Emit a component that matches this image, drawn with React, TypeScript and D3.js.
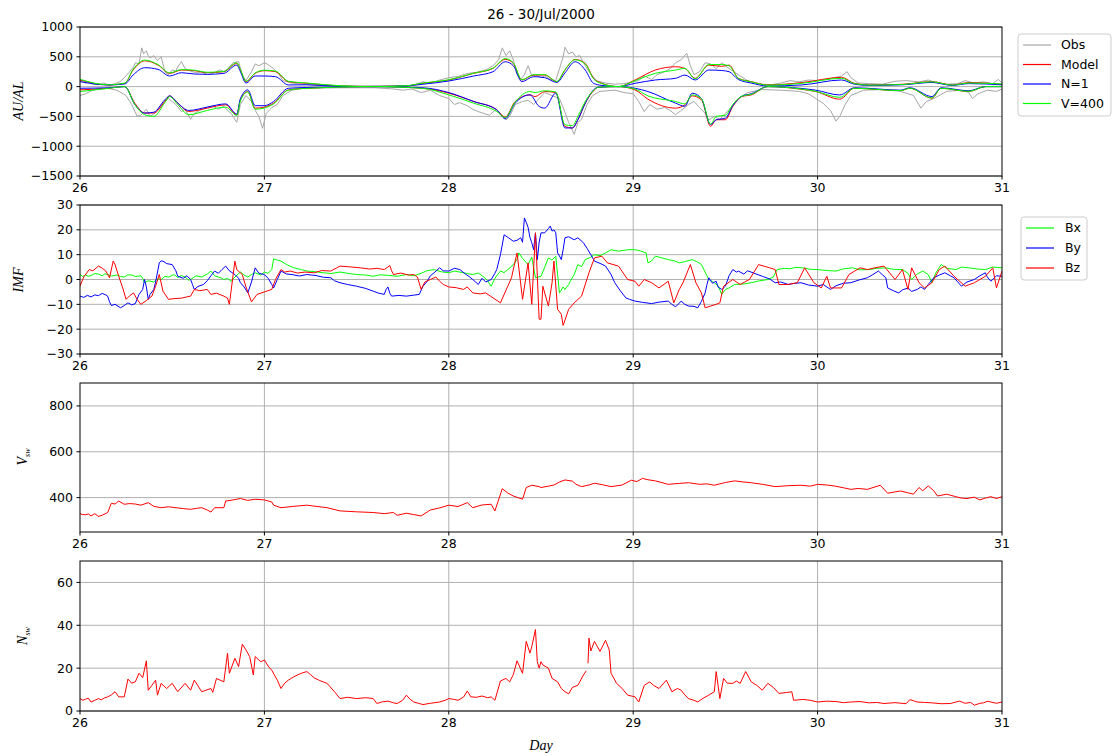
import React from "react";
import * as d3 from "d3";

type P = [number, number][];

// ---------- Panel 1: AU / AL ----------
const auModel: P = [[26.0,111],[26.153,28],[26.243,55],[26.288,278],[26.351,433],[26.423,361],[26.486,222],[26.55,278],[26.62,267],[26.69,233],[26.78,250],[26.85,389],[26.87,278],[26.9,83],[26.95,222],[27.0,267],[27.06,250],[27.13,83],[27.23,55],[27.41,11],[27.59,0],[27.77,11],[27.86,55],[28.0,111],[28.135,222],[28.24,306],[28.306,456],[28.35,389],[28.396,111],[28.46,194],[28.52,194],[28.586,83],[28.63,278],[28.685,456],[28.74,389],[28.785,139],[28.83,55],[28.92,0],[29.01,111],[29.12,278],[29.23,333],[29.28,306],[29.336,139],[29.41,361],[29.48,340],[29.52,361],[29.57,139],[29.64,83],[29.73,28],[29.915,67],[30.13,155],[30.2,55],[30.28,28],[30.46,39],[30.62,83],[30.73,28],[30.82,67],[31.0,39]];
const auN1: P = [[26.0,83],[26.153,28],[26.243,45],[26.288,195],[26.351,317],[26.423,289],[26.486,178],[26.55,233],[26.62,211],[26.69,206],[26.78,222],[26.85,361],[26.87,250],[26.9,60],[26.95,178],[27.0,178],[27.06,167],[27.13,28],[27.23,30],[27.41,5],[27.59,0],[27.77,11],[27.86,40],[28.0,94],[28.135,178],[28.24,250],[28.306,417],[28.35,350],[28.396,83],[28.46,167],[28.52,150],[28.586,70],[28.63,230],[28.685,417],[28.74,278],[28.785,55],[28.83,20],[28.92,0],[29.01,55],[29.12,111],[29.23,139],[29.28,194],[29.336,111],[29.41,278],[29.48,270],[29.52,250],[29.57,120],[29.64,60],[29.73,10],[29.915,28],[30.13,111],[30.2,40],[30.28,20],[30.46,30],[30.62,70],[30.73,20],[30.82,50],[31.0,30]];
const auV400: P = [[26.0,122],[26.153,30],[26.243,60],[26.288,290],[26.351,444],[26.423,370],[26.486,230],[26.55,285],[26.62,275],[26.69,240],[26.78,255],[26.85,400],[26.87,285],[26.9,90],[26.95,230],[27.0,275],[27.06,260],[27.13,90],[27.23,60],[27.41,15],[27.59,0],[27.77,15],[27.86,60],[28.0,115],[28.135,225],[28.24,310],[28.306,470],[28.35,400],[28.396,115],[28.46,200],[28.52,200],[28.586,85],[28.63,285],[28.685,450],[28.74,380],[28.785,130],[28.83,50],[28.92,0],[29.01,100],[29.12,222],[29.23,278],[29.28,306],[29.336,130],[29.41,370],[29.48,370],[29.52,350],[29.57,140],[29.64,80],[29.73,25],[29.915,55],[30.13,140],[30.2,50],[30.28,25],[30.46,35],[30.62,80],[30.73,25],[30.82,60],[31.0,45]];
const alModel: P = [[26.0,-55],[26.153,-28],[26.243,0],[26.297,-278],[26.351,-444],[26.4,-444],[26.46,-250],[26.486,-156],[26.53,-278],[26.59,-417],[26.69,-361],[26.79,-306],[26.85,-472],[26.87,-222],[26.91,-83],[26.95,-361],[27.0,-344],[27.05,-278],[27.13,-55],[27.23,-28],[27.59,0],[27.86,-28],[28.0,-111],[28.135,-250],[28.26,-389],[28.306,-511],[28.36,-250],[28.44,-139],[28.468,-167],[28.52,-83],[28.58,-100],[28.63,-667],[28.67,-694],[28.7,-556],[28.74,-278],[28.79,-55],[28.81,-10],[28.92,0],[29.01,-55],[29.08,-211],[29.23,-361],[29.28,-306],[29.32,-156],[29.37,-222],[29.42,-667],[29.45,-556],[29.5,-556],[29.54,-333],[29.59,-167],[29.64,-139],[29.73,0],[29.91,-44],[29.99,-83],[30.12,-211],[30.2,-28],[30.45,-67],[30.5,-28],[30.62,-194],[30.67,-28],[30.82,-83],[30.91,0],[31.0,0]];
const alN1: P = [[26.0,-28],[26.153,-20],[26.243,0],[26.297,-300],[26.351,-444],[26.4,-430],[26.46,-222],[26.486,-156],[26.53,-278],[26.59,-400],[26.69,-344],[26.79,-290],[26.85,-460],[26.87,-200],[26.91,-55],[26.95,-320],[27.0,-320],[27.05,-250],[27.13,-28],[27.23,-15],[27.59,0],[27.86,-20],[28.0,-100],[28.135,-250],[28.26,-389],[28.306,-540],[28.36,-278],[28.44,-139],[28.49,-333],[28.52,-361],[28.58,-111],[28.63,-694],[28.67,-694],[28.7,-556],[28.74,-278],[28.79,-40],[28.81,-10],[28.92,0],[29.01,-28],[29.08,-83],[29.23,-278],[29.28,-330],[29.32,-111],[29.37,-200],[29.42,-639],[29.45,-556],[29.5,-530],[29.54,-320],[29.59,-160],[29.64,-120],[29.73,0],[29.91,-30],[29.99,-60],[30.12,-140],[30.2,-20],[30.45,-60],[30.5,-20],[30.62,-167],[30.67,-20],[30.82,-70],[30.91,0],[31.0,0]];
const alV400: P = [[26.0,-83],[26.153,-30],[26.243,0],[26.297,-300],[26.351,-472],[26.4,-500],[26.46,-270],[26.486,-170],[26.53,-300],[26.59,-472],[26.69,-400],[26.79,-345],[26.85,-485],[26.87,-240],[26.91,-90],[26.95,-380],[27.0,-360],[27.05,-290],[27.13,-60],[27.23,-30],[27.59,0],[27.86,-30],[28.0,-139],[28.135,-278],[28.26,-417],[28.306,-520],[28.36,-260],[28.44,-83],[28.468,-100],[28.52,-70],[28.58,-90],[28.63,-639],[28.67,-656],[28.7,-500],[28.74,-250],[28.79,-50],[28.81,-10],[28.92,0],[29.01,-40],[29.08,-156],[29.23,-250],[29.28,-290],[29.32,-139],[29.37,-200],[29.42,-630],[29.45,-500],[29.5,-480],[29.54,-300],[29.59,-160],[29.64,-130],[29.73,0],[29.91,-40],[29.99,-80],[30.12,-180],[30.2,-28],[30.45,-67],[30.5,-28],[30.62,-190],[30.67,-28],[30.82,-80],[30.91,0],[31.0,0]];
const auObs: P = [[26.0,100],[26.015,80],[26.03,60],[26.05,75],[26.07,40],[26.1,30],[26.13,60],[26.16,20],[26.2,60],[26.22,90],[26.24,150],[26.27,250],[26.29,330],[26.3,400],[26.32,380],[26.335,650],[26.345,550],[26.36,600],[26.37,520],[26.38,480],[26.4,520],[26.42,440],[26.44,500],[26.45,380],[26.46,250],[26.48,200],[26.5,280],[26.52,260],[26.53,330],[26.55,420],[26.57,300],[26.6,260],[26.63,230],[26.66,250],[26.68,210],[26.7,200],[26.73,240],[26.76,280],[26.78,250],[26.8,300],[26.83,400],[26.86,420],[26.88,200],[26.9,100],[26.93,250],[26.95,380],[26.97,350],[27.0,400],[27.02,370],[27.05,300],[27.08,200],[27.1,100],[27.15,60],[27.2,40],[27.3,20],[27.5,10],[27.7,20],[27.78,10],[27.82,40],[27.86,80],[27.9,60],[27.95,110],[28.0,150],[28.05,170],[28.1,220],[28.15,240],[28.2,280],[28.24,350],[28.27,450],[28.29,650],[28.31,520],[28.33,600],[28.35,450],[28.37,200],[28.39,120],[28.41,200],[28.43,350],[28.45,180],[28.47,200],[28.5,150],[28.52,180],[28.55,120],[28.58,100],[28.6,300],[28.62,500],[28.63,660],[28.65,550],[28.67,580],[28.69,500],[28.71,520],[28.73,400],[28.76,250],[28.8,100],[28.85,60],[28.9,40],[28.95,50],[29.0,80],[29.03,100],[29.06,180],[29.1,120],[29.13,200],[29.17,250],[29.2,300],[29.23,400],[29.26,450],[29.29,560],[29.31,350],[29.33,200],[29.36,250],[29.39,400],[29.42,380],[29.45,300],[29.48,400],[29.5,350],[29.53,280],[29.57,200],[29.62,100],[29.66,60],[29.7,40],[29.75,30],[29.8,60],[29.85,100],[29.9,80],[29.95,110],[30.0,100],[30.05,120],[30.09,150],[30.13,180],[30.16,250],[30.18,150],[30.22,60],[30.28,50],[30.35,40],[30.42,90],[30.48,100],[30.55,80],[30.6,110],[30.65,60],[30.7,40],[30.76,50],[30.8,100],[30.85,60],[30.9,80],[30.95,50],[30.98,120],[31.0,60]];
const alObs: P = [[26.0,-150],[26.03,-120],[26.07,-60],[26.1,-40],[26.15,-30],[26.2,-60],[26.25,-150],[26.28,-300],[26.31,-500],[26.33,-480],[26.36,-380],[26.38,-500],[26.4,-460],[26.43,-350],[26.46,-250],[26.48,-200],[26.5,-250],[26.52,-300],[26.55,-420],[26.57,-380],[26.6,-550],[26.62,-450],[26.65,-400],[26.68,-360],[26.72,-320],[26.75,-380],[26.78,-330],[26.8,-400],[26.82,-450],[26.85,-600],[26.87,-300],[26.9,-150],[26.93,-250],[26.95,-400],[26.97,-500],[26.99,-700],[27.01,-450],[27.04,-350],[27.07,-300],[27.1,-150],[27.15,-60],[27.2,-30],[27.4,-20],[27.6,-20],[27.7,-40],[27.75,-60],[27.8,-40],[27.85,-100],[27.9,-60],[27.95,-150],[28.0,-200],[28.03,-300],[28.06,-270],[28.1,-320],[28.13,-380],[28.16,-420],[28.19,-450],[28.22,-480],[28.25,-400],[28.28,-450],[28.31,-560],[28.33,-500],[28.36,-300],[28.4,-250],[28.43,-230],[28.46,-300],[28.49,-200],[28.52,-100],[28.56,-150],[28.6,-200],[28.62,-350],[28.65,-600],[28.68,-800],[28.7,-600],[28.72,-550],[28.75,-300],[28.78,-150],[28.82,-80],[28.9,-60],[28.95,-100],[29.0,-120],[29.03,-250],[29.06,-420],[29.09,-300],[29.13,-380],[29.17,-350],[29.2,-400],[29.23,-470],[29.26,-400],[29.3,-300],[29.33,-250],[29.36,-350],[29.39,-450],[29.41,-560],[29.44,-500],[29.47,-550],[29.5,-450],[29.53,-350],[29.57,-200],[29.62,-100],[29.7,-50],[29.8,-60],[29.9,-80],[29.95,-120],[29.99,-200],[30.03,-280],[30.07,-400],[30.1,-580],[30.12,-500],[30.15,-300],[30.18,-150],[30.25,-60],[30.35,-50],[30.45,-80],[30.52,-150],[30.56,-360],[30.59,-250],[30.63,-200],[30.7,-80],[30.78,-60],[30.82,-100],[30.84,-200],[30.87,-120],[30.92,-60],[30.97,-80],[31.0,-40]];

// ---------- Panel 2: IMF ----------
const bx: P = [[26.0,2],[26.015,1.2],[26.03,1.8],[26.045,1.3],[26.06,1.6],[26.08,2.4],[26.1,2.2],[26.12,1.5],[26.135,2.3],[26.15,2],[26.17,1.4],[26.2,1.8],[26.22,1.2],[26.24,1],[26.26,1.9],[26.28,1.8],[26.3,1.2],[26.33,1.5],[26.34,0.5],[26.35,-1.3],[26.37,-0.5],[26.4,-1],[26.42,0.3],[26.44,0],[26.46,1.2],[26.48,1],[26.51,2],[26.53,0.8],[26.55,1.6],[26.57,1],[26.59,-0.3],[26.6,0],[26.63,1.5],[26.66,1],[26.69,2.2],[26.71,3.4],[26.73,1.5],[26.75,1],[26.77,0.5],[26.78,0],[26.8,0.5],[26.82,-0.7],[26.84,1],[26.87,3],[26.89,1.8],[26.91,1],[26.93,2],[26.95,2.7],[26.98,1.8],[27.0,3],[27.02,2.5],[27.04,4],[27.05,8.3],[27.07,7.8],[27.09,7.4],[27.12,6],[27.16,4.7],[27.2,4],[27.23,3.4],[27.27,3.2],[27.32,2.7],[27.36,2.4],[27.41,3],[27.45,2.5],[27.5,2],[27.55,1.8],[27.59,1.3],[27.63,1.9],[27.68,1.6],[27.72,1.3],[27.77,2],[27.81,1.5],[27.85,2.5],[27.88,3.5],[27.92,4],[27.96,3.1],[28.0,2.7],[28.03,3.4],[28.06,3],[28.1,2.4],[28.13,2],[28.16,2.6],[28.19,1],[28.21,-0.5],[28.23,-2.7],[28.25,0.5],[28.28,3.4],[28.3,2.8],[28.32,4],[28.35,6],[28.37,8],[28.38,10.7],[28.4,8.5],[28.43,6],[28.45,9],[28.47,0.7],[28.5,1.3],[28.52,5],[28.54,8.7],[28.56,7.8],[28.58,9.4],[28.59,2],[28.6,-5.4],[28.62,-3],[28.63,-4],[28.65,-2],[28.66,-0.5],[28.68,2],[28.7,6],[28.72,5.2],[28.74,8],[28.77,9],[28.79,10],[28.82,9.6],[28.85,10.7],[28.88,12],[28.92,11.4],[28.97,12],[29.01,12],[29.04,11.5],[29.07,10.7],[29.08,6.7],[29.1,7.5],[29.12,9.4],[29.15,8.8],[29.19,8],[29.22,7.6],[29.25,6.7],[29.28,7.2],[29.32,8],[29.35,7],[29.37,6],[29.39,3],[29.41,0],[29.44,-1.3],[29.46,-2.5],[29.48,-6],[29.5,-4],[29.52,-3.4],[29.55,-2],[29.6,-1.8],[29.64,-1.3],[29.68,-0.6],[29.73,0],[29.76,1],[29.78,4],[29.82,4.5],[29.85,4.3],[29.88,4.9],[29.92,4.7],[29.96,4.1],[30.0,4],[30.05,3.6],[30.1,3.4],[30.14,4.3],[30.19,4.7],[30.23,3.9],[30.28,4],[30.32,4.5],[30.37,4.7],[30.41,4.1],[30.46,4],[30.49,2.5],[30.51,0],[30.54,2.2],[30.57,3.4],[30.6,2],[30.62,-1.3],[30.64,2.5],[30.67,6],[30.7,4.5],[30.75,4],[30.78,5],[30.82,4.7],[30.87,4.2],[30.91,4],[30.95,5],[31.0,4.7]];
const by: P = [[26.0,-6.7],[26.02,-7.2],[26.04,-6.4],[26.06,-7],[26.08,-6.2],[26.1,-6.5],[26.12,-5.6],[26.14,-6.2],[26.15,-6.7],[26.16,-9],[26.17,-10.5],[26.19,-10],[26.22,-11.4],[26.24,-10.5],[26.26,-9.4],[26.28,-10.2],[26.3,-9.7],[26.32,-6],[26.34,-4],[26.35,0],[26.36,-3],[26.37,-8],[26.38,-6],[26.4,-4],[26.41,-1],[26.43,6.7],[26.44,7.5],[26.45,7.4],[26.47,6.4],[26.5,6],[26.52,3.5],[26.53,1.3],[26.56,0.5],[26.58,1.5],[26.6,0],[26.61,-2],[26.62,-4],[26.64,-2.8],[26.67,-2],[26.69,-0.5],[26.71,1.5],[26.73,3.4],[26.75,2.5],[26.77,4],[26.79,5.4],[26.81,3.5],[26.84,2],[26.86,0.5],[26.87,-1.3],[26.89,-3],[26.91,-5.4],[26.93,-1],[26.95,4.7],[26.97,2.5],[27.0,2],[27.02,0.5],[27.04,-2],[27.05,-3.4],[27.07,0],[27.09,3.4],[27.12,2.2],[27.15,2],[27.19,1.4],[27.23,2],[27.28,1.6],[27.32,0.9],[27.36,0.7],[27.38,-0.5],[27.41,-1.3],[27.45,-2],[27.5,-2.7],[27.55,-3.6],[27.59,-4.7],[27.62,-5.5],[27.65,-6],[27.66,-4],[27.67,-3],[27.68,-5.5],[27.69,-6.7],[27.73,-6.4],[27.77,-6.7],[27.81,-6.3],[27.84,-6],[27.86,-2.7],[27.88,-1],[27.9,1.5],[27.92,2.7],[27.95,4.7],[27.97,3.5],[28.0,3.4],[28.03,4.5],[28.06,4],[28.09,2.2],[28.11,1.2],[28.13,0],[28.16,-2],[28.18,0.5],[28.2,-1],[28.23,0],[28.25,2.5],[28.26,4],[28.28,10],[28.3,18],[28.32,17],[28.35,15.4],[28.37,15.8],[28.39,16.8],[28.4,15],[28.41,24.8],[28.42,23],[28.43,21],[28.44,17],[28.45,14.8],[28.46,12],[28.47,18.8],[28.48,8],[28.49,15],[28.5,18.8],[28.52,18.8],[28.54,20.5],[28.55,21.5],[28.56,19.5],[28.57,20],[28.58,18.8],[28.59,10.7],[28.6,9.5],[28.61,8],[28.62,12],[28.63,16.8],[28.65,17.2],[28.68,16],[28.7,16.8],[28.73,14.8],[28.75,12.5],[28.77,10],[28.79,7.4],[28.82,6.5],[28.85,5.4],[28.88,2],[28.9,-1.3],[28.93,-4.5],[28.96,-7.4],[28.98,-8],[29.01,-8.7],[29.05,-9.2],[29.1,-9.7],[29.14,-9.1],[29.19,-8.7],[29.21,-10],[29.23,-11],[29.25,-9.5],[29.26,-8.7],[29.28,-10],[29.3,-10.7],[29.33,-10.8],[29.35,-11.4],[29.37,-8.8],[29.39,-5.4],[29.4,-2],[29.41,0.7],[29.43,-1.5],[29.45,-0.7],[29.46,-3],[29.48,-4],[29.5,-2.7],[29.52,1.5],[29.54,4],[29.56,3],[29.57,3.4],[29.6,2.2],[29.62,3.5],[29.65,2.7],[29.7,1.3],[29.74,0.2],[29.77,-1.3],[29.8,-1],[29.84,-2],[29.87,-1.6],[29.91,-1.3],[29.95,-2.2],[30.0,-2.7],[30.03,-2],[30.07,-4],[30.1,-2.5],[30.14,-1.5],[30.18,-1.3],[30.22,-0.3],[30.27,0.7],[30.3,2],[30.33,3.4],[30.35,2],[30.37,0.7],[30.38,-3.4],[30.41,-4.5],[30.44,-5.4],[30.46,-4.2],[30.49,-3.4],[30.51,-4.8],[30.54,-4],[30.56,-3],[30.58,-4],[30.6,-2],[30.63,0.7],[30.66,1.8],[30.69,2.7],[30.72,1.5],[30.74,0.7],[30.76,-1],[30.78,-2.7],[30.81,-1],[30.85,0],[30.88,1.5],[30.91,2.7],[30.92,1],[30.94,-0.7],[30.97,1.5],[31.0,1.3]];
const bz: P = [[26.0,-2.7],[26.02,1],[26.05,4],[26.07,3.5],[26.1,5.4],[26.12,4.6],[26.14,3.4],[26.16,0.7],[26.18,7.4],[26.19,6],[26.21,1.3],[26.23,-3],[26.25,-8],[26.27,-6.5],[26.29,-5.4],[26.31,-8],[26.33,-10],[26.36,-8.5],[26.39,-6.7],[26.41,-2.7],[26.43,2],[26.45,-4.7],[26.48,-8],[26.51,-7.7],[26.55,-7.5],[26.58,-7],[26.6,-6.7],[26.62,-4],[26.65,-4.5],[26.69,-4],[26.71,-6],[26.74,-5.5],[26.78,-6.7],[26.8,-7.5],[26.81,-10],[26.84,7.4],[26.85,4],[26.88,2],[26.9,-3],[26.93,-9],[26.96,-6],[27.0,-5],[27.04,-4],[27.06,0],[27.09,4],[27.11,3],[27.14,3.4],[27.18,2.6],[27.22,3],[27.27,2.7],[27.31,3.6],[27.36,3.4],[27.39,4.6],[27.41,5.4],[27.46,5.1],[27.52,4.7],[27.57,4.2],[27.61,4.5],[27.65,4],[27.68,5.6],[27.69,3.5],[27.7,2],[27.74,2.6],[27.78,1.8],[27.81,2],[27.83,1],[27.85,-4],[27.87,-1],[27.9,0],[27.93,1],[27.95,-0.7],[27.97,-2],[28.0,-3],[28.04,-3.3],[28.08,-4],[28.1,-3],[28.13,-5.4],[28.17,-5.8],[28.2,-5.4],[28.24,-7.4],[28.28,-9.4],[28.32,-2.7],[28.34,0.7],[28.37,10.7],[28.4,-8],[28.43,6.7],[28.45,-10],[28.47,18.8],[28.49,-16],[28.5,-16],[28.51,-2.7],[28.54,-10.7],[28.56,-1.3],[28.57,7.4],[28.59,-12],[28.61,-14],[28.62,-18.5],[28.65,-12],[28.68,-9.4],[28.72,-6.7],[28.76,2.7],[28.79,8.7],[28.83,9.4],[28.86,6.7],[28.92,5.4],[28.97,0],[29.01,-0.7],[29.03,-2.7],[29.06,0],[29.1,-1.3],[29.14,-3.4],[29.19,-0.7],[29.22,-9.4],[29.25,-4],[29.27,-1.3],[29.31,6],[29.34,-1.3],[29.37,-5.4],[29.39,-11.4],[29.45,-10],[29.47,-9.4],[29.49,-2.7],[29.54,0],[29.58,-2],[29.63,0],[29.68,6],[29.74,4.7],[29.77,4],[29.79,-2],[29.84,-2],[29.89,-1.3],[29.93,4.7],[29.98,-1.3],[30.02,-3.4],[30.05,1.3],[30.07,-3.4],[30.13,-3.4],[30.17,2],[30.23,4.7],[30.27,4],[30.31,4.7],[30.36,5.4],[30.42,0],[30.46,4],[30.49,-4],[30.51,4.7],[30.55,-1.3],[30.58,-3.4],[30.62,-1.3],[30.66,4],[30.69,5.4],[30.74,1.3],[30.8,-2.7],[30.85,-1.3],[30.91,1.3],[30.95,4.7],[30.97,-3.4],[31.0,3.4]];

// ---------- Panel 3: Vsw ----------
const vsw: P = [[26.0,330],[26.015,326],[26.03,325],[26.045,329],[26.06,320],[26.08,330],[26.1,318],[26.12,323],[26.15,335],[26.17,375],[26.19,372],[26.21,385],[26.24,371],[26.27,374],[26.3,372],[26.33,367],[26.37,378],[26.4,362],[26.44,356],[26.48,360],[26.51,357],[26.56,352],[26.6,349],[26.63,353],[26.66,356],[26.69,346],[26.71,337],[26.73,356],[26.78,356],[26.79,385],[26.83,390],[26.87,396],[26.91,388],[26.95,393],[27.0,390],[27.04,381],[27.05,367],[27.09,356],[27.16,362],[27.23,367],[27.34,356],[27.41,342],[27.5,338],[27.59,335],[27.65,330],[27.7,335],[27.72,323],[27.77,332],[27.81,326],[27.85,320],[27.9,346],[27.95,355],[28.0,367],[28.05,361],[28.1,378],[28.13,356],[28.18,368],[28.23,371],[28.25,342],[28.29,439],[28.32,420],[28.35,407],[28.4,393],[28.42,444],[28.45,454],[28.49,448],[28.5,444],[28.54,450],[28.57,455],[28.6,468],[28.63,477],[28.67,472],[28.69,458],[28.72,448],[28.76,455],[28.79,463],[28.84,455],[28.88,448],[28.94,455],[28.99,476],[29.02,470],[29.05,484],[29.08,478],[29.12,473],[29.19,458],[29.25,462],[29.3,465],[29.36,458],[29.4,460],[29.44,454],[29.5,466],[29.55,473],[29.6,468],[29.64,465],[29.7,458],[29.77,448],[29.84,452],[29.91,454],[29.96,450],[30.0,458],[30.05,455],[30.09,451],[30.14,443],[30.18,436],[30.22,440],[30.27,436],[30.34,454],[30.38,419],[30.42,425],[30.45,429],[30.52,415],[30.55,444],[30.57,430],[30.6,451],[30.63,430],[30.65,407],[30.7,415],[30.75,404],[30.78,398],[30.81,396],[30.85,402],[30.88,390],[30.91,398],[30.94,404],[30.97,396],[31.0,404]];

// ---------- Panel 4: Nsw ----------
const nsw: P = [[26.0,5.8],[26.015,5],[26.03,5.5],[26.045,6],[26.06,4.2],[26.08,5],[26.1,5.8],[26.115,5.2],[26.13,6],[26.15,6.6],[26.17,7.5],[26.19,9],[26.21,6.6],[26.24,6.6],[26.26,14.9],[26.28,13],[26.3,13.6],[26.32,17.6],[26.34,15.6],[26.36,23.4],[26.37,9.7],[26.39,12],[26.41,14.4],[26.42,7.4],[26.44,12.9],[26.47,10.5],[26.5,12.9],[26.53,9],[26.57,12.9],[26.6,9.7],[26.62,14.4],[26.66,9],[26.71,10.5],[26.72,8.7],[26.74,15.2],[26.78,13.6],[26.8,27],[26.81,17.6],[26.84,24.6],[26.86,20.7],[26.88,31.2],[26.9,28.5],[26.92,25.4],[26.94,16.8],[26.95,25.4],[26.98,23],[27.0,23.8],[27.02,21],[27.04,19],[27.07,14.4],[27.09,10.5],[27.11,13],[27.13,14.4],[27.16,16],[27.2,17.6],[27.23,18.4],[27.25,17],[27.27,15.5],[27.3,14.2],[27.34,12.9],[27.38,9],[27.41,5.8],[27.45,6.4],[27.5,5.8],[27.55,6.2],[27.59,5.8],[27.61,3.5],[27.64,4.3],[27.67,4.6],[27.7,3.8],[27.72,3.5],[27.75,5],[27.77,7.4],[27.79,5.5],[27.81,4.2],[27.84,3.5],[27.86,3],[27.9,3.6],[27.95,4.2],[27.98,5],[28.0,5.8],[28.03,5.4],[28.05,5],[28.08,6.5],[28.1,9.3],[28.12,6.6],[28.15,6.4],[28.18,7],[28.21,6.2],[28.23,6.6],[28.25,5],[28.28,14],[28.31,15.2],[28.33,13.6],[28.35,17],[28.37,23.4],[28.4,17.6],[28.42,32.5],[28.44,27],[28.45,30],[28.47,38],[28.48,23],[28.49,20],[28.5,23],[28.51,21.5],[28.54,20],[28.56,15.2],[28.59,13.6],[28.61,10.5],[28.63,9],[28.65,8],[28.67,11],[28.7,12],[28.73,16.8],[28.745,18.7],[28.75,NaN],[28.755,22.3],[28.76,34],[28.77,28],[28.79,32.5],[28.82,27.8],[28.85,33],[28.87,28.5],[28.88,17.6],[28.91,12.9],[28.94,10.5],[28.97,7.4],[29.01,6.6],[29.03,4.2],[29.06,12],[29.09,13.6],[29.11,12],[29.14,10.5],[29.18,14.4],[29.21,9],[29.24,10.5],[29.26,9.7],[29.28,7.5],[29.3,5.8],[29.33,5],[29.35,4.2],[29.38,6],[29.41,7.4],[29.44,9],[29.45,18.4],[29.47,5.8],[29.49,15.2],[29.51,13],[29.54,12.9],[29.56,14],[29.58,12.9],[29.61,18.4],[29.64,13.6],[29.67,12],[29.7,9.7],[29.73,12.9],[29.76,11],[29.79,8.2],[29.83,8.6],[29.86,9],[29.87,5],[29.92,5.4],[29.96,5],[30.0,4.2],[30.05,4.6],[30.1,4.4],[30.14,3.9],[30.18,4.2],[30.23,4.4],[30.28,3.8],[30.32,4],[30.36,3.5],[30.42,3.9],[30.48,3.4],[30.5,5.3],[30.52,4.8],[30.54,4.2],[30.58,4],[30.62,3.8],[30.67,3.4],[30.72,3.5],[30.75,4.2],[30.77,4.6],[30.8,3.6],[30.83,4],[30.85,2.7],[30.88,3.6],[30.9,3.8],[30.92,4.5],[30.94,4.2],[30.97,3.6],[31.0,4.2]];

const xTicks = [26, 27, 28, 29, 30, 31];
const ticks1 = [1000, 500, 0, -500, -1000, -1500];
const ticks2 = [30, 20, 10, 0, -10, -20, -30];
const ticks3 = [400, 600, 800];
const ticks4 = [0, 20, 40, 60];

const TITLE = "26 - 30/Jul/2000";
const legend1 = [
  { label: "Obs", color: "#a6a6a6" },
  { label: "Model", color: "#ff0000" },
  { label: "N=1", color: "#0000ff" },
  { label: "V=400", color: "#00ff00" },
];
const legend2 = [
  { label: "Bx", color: "#00ff00" },
  { label: "By", color: "#0000ff" },
  { label: "Bz", color: "#ff0000" },
];

const W = 1114, H = 756;
const L = 80, R = 1002;
const SANS = "'DejaVu Sans', sans-serif";
const SERIF = "'Liberation Serif', 'DejaVu Serif', serif";

const fmt = (v: number) => (v < 0 ? "\u2212" + Math.abs(v) : String(v));

type Series = { data: P; color: string; smooth?: boolean };

function Panel(props: {
  id: string;
  top: number;
  bottom: number;
  domain: [number, number];
  ticks: number[];
  series: Series[];
}) {
  const { id, top, bottom, domain, ticks, series } = props;
  const x = d3.scaleLinear().domain([26, 31]).range([L, R]);
  const y = d3.scaleLinear().domain(domain).range([bottom, top]);
  const mk = (smooth?: boolean) =>
    d3
      .line<[number, number]>()
      .defined((d) => !isNaN(d[1]))
      .x((d) => x(d[0]))
      .y((d) => y(d[1]))
      .curve(smooth ? d3.curveMonotoneX : d3.curveLinear);
  return (
    <g>
      <defs>
        <clipPath id={id}>
          <rect x={L} y={top} width={R - L} height={bottom - top} />
        </clipPath>
      </defs>
      {xTicks.slice(1, -1).map((t) => (
        <line key={"gx" + t} x1={x(t)} x2={x(t)} y1={top} y2={bottom} stroke="#b0b0b0" strokeWidth={1} />
      ))}
      {ticks.map((t) => (
        <line key={"gy" + t} x1={L} x2={R} y1={y(t)} y2={y(t)} stroke="#b0b0b0" strokeWidth={1} />
      ))}
      <g clipPath={`url(#${id})`}>
        {series.map((s, i) => (
          <path key={i} d={mk(s.smooth)(s.data) || ""} fill="none" stroke={s.color} strokeWidth={1} strokeLinejoin="round" />
        ))}
      </g>
      <rect x={L} y={top} width={R - L} height={bottom - top} fill="none" stroke="#000" strokeWidth={1} />
      {ticks.map((t) => (
        <g key={"ty" + t}>
          <line x1={L - 3.5} x2={L} y1={y(t)} y2={y(t)} stroke="#000" strokeWidth={1} />
          <text x={L - 7} y={y(t)} dy="0.35em" textAnchor="end" fontFamily={SANS} fontSize={12.5} fill="#000">
            {fmt(t)}
          </text>
        </g>
      ))}
      {xTicks.map((t) => (
        <g key={"tx" + t}>
          <line x1={x(t)} x2={x(t)} y1={bottom} y2={bottom + 3.5} stroke="#000" strokeWidth={1} />
          <text x={x(t)} y={bottom + 6} dy="0.76em" textAnchor="middle" fontFamily={SANS} fontSize={12.5} fill="#000">
            {t}
          </text>
        </g>
      ))}
    </g>
  );
}

function Legend(props: { x: number; y: number; w: number; h: number; items: { label: string; color: string }[]; rowH: number; lineX: number; textX: number }) {
  const { x, y, w, h, items, rowH, lineX, textX } = props;
  return (
    <g>
      <rect x={x} y={y} width={w} height={h} rx={3} fill="#fff" stroke="#cccccc" strokeWidth={1} />
      {items.map((it, i) => {
        const cy = y + 11 + i * rowH;
        return (
          <g key={it.label}>
            <line x1={x + lineX} x2={x + lineX + 28} y1={cy} y2={cy} stroke={it.color} strokeWidth={1.2} />
            <text x={x + textX} y={cy} dy="0.35em" fontFamily={SANS} fontSize={12.5} fill="#000">
              {it.label}
            </text>
          </g>
        );
      })}
    </g>
  );
}

export default function App() {
  return (
    <svg width={W} height={H} style={{ display: "block", position: "absolute", left: 0, top: 0 }}>
      <rect width={W} height={H} fill="#fff" />
      <text x={541} y={19} textAnchor="middle" fontFamily={SANS} fontSize={13.5} fill="#000">
        {TITLE}
      </text>
      <Panel
        id="c1"
        top={27}
        bottom={176}
        domain={[-1500, 1000]}
        ticks={ticks1}
        series={[
          { data: auObs, color: "#a6a6a6" },
          { data: alObs, color: "#a6a6a6" },
          { data: auModel, color: "#ff0000", smooth: true },
          { data: alModel, color: "#ff0000", smooth: true },
          { data: auN1, color: "#0000ff", smooth: true },
          { data: alN1, color: "#0000ff", smooth: true },
          { data: auV400, color: "#00ff00", smooth: true },
          { data: alV400, color: "#00ff00", smooth: true },
        ]}
      />
      <Panel
        id="c2"
        top={205}
        bottom={354}
        domain={[-30, 30]}
        ticks={ticks2}
        series={[
          { data: bx, color: "#00ff00" },
          { data: by, color: "#0000ff" },
          { data: bz, color: "#ff0000" },
        ]}
      />
      <Panel id="c3" top={383} bottom={532} domain={[250, 900]} ticks={ticks3} series={[{ data: vsw, color: "#ff0000" }]} />
      <Panel id="c4" top={561} bottom={711} domain={[0, 70]} ticks={ticks4} series={[{ data: nsw, color: "#ff0000" }]} />

      <Legend x={1018} y={34} w={93} h={82} items={legend1} rowH={19.5} lineX={5} textX={43} />
      <Legend x={1021} y={217} w={66} h={63} items={legend2} rowH={20} lineX={5} textX={44} />

      <text transform="translate(23,101) rotate(-90)" textAnchor="middle" fontFamily={SERIF} fontStyle="italic" fontSize={14} fill="#000">
        AU/AL
      </text>
      <text transform="translate(23,280) rotate(-90)" textAnchor="middle" fontFamily={SERIF} fontStyle="italic" fontSize={14} fill="#000">
        IMF
      </text>
      <text transform="translate(27,457) rotate(-90)" textAnchor="middle" fontFamily={SERIF} fontStyle="italic" fontSize={14} fill="#000">
        V<tspan fontSize={8} dy={3}>sw</tspan>
      </text>
      <text transform="translate(27,636) rotate(-90)" textAnchor="middle" fontFamily={SERIF} fontStyle="italic" fontSize={14} fill="#000">
        N<tspan fontSize={8} dy={3}>sw</tspan>
      </text>
      <text x={541} y={750} textAnchor="middle" fontFamily={SERIF} fontStyle="italic" fontSize={14} fill="#000">
        Day
      </text>
    </svg>
  );
}
